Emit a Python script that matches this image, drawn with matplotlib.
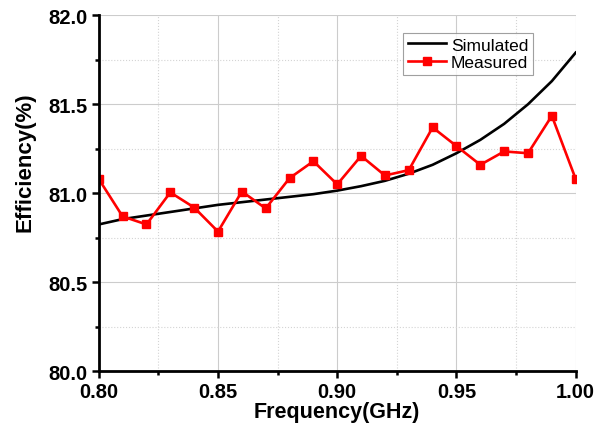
import matplotlib

matplotlib.use("Agg")
import matplotlib.pyplot as plt
from matplotlib.ticker import MultipleLocator

plt.rcParams["font.family"] = ["Liberation Sans", "DejaVu Sans"]

freq = [0.80, 0.81, 0.82, 0.83, 0.84, 0.85, 0.86, 0.87, 0.88, 0.89, 0.90,
        0.91, 0.92, 0.93, 0.94, 0.95, 0.96, 0.97, 0.98, 0.99, 1.00]
simulated = [80.825, 80.855, 80.875, 80.895, 80.915, 80.935, 80.95, 80.965,
             80.98, 80.995, 81.015, 81.04, 81.07, 81.11, 81.16, 81.225,
             81.30, 81.39, 81.50, 81.63, 81.79]
measured = [81.08, 80.87, 80.825, 81.005, 80.92, 80.785, 81.01, 80.915,
            81.085, 81.18, 81.05, 81.21, 81.10, 81.13, 81.37, 81.265,
            81.16, 81.235, 81.225, 81.435, 81.08]

fig = plt.figure(figsize=(6.06, 4.27), dpi=100)
ax = fig.add_axes([0.163, 0.128, 0.787, 0.834])

ax.plot(freq, simulated, color="black", lw=1.9, label="Simulated")
ax.plot(freq, measured, color="red", lw=1.9, marker="s", markersize=6,
        label="Measured")

ax.set_xlim(0.80, 1.00)
ax.set_ylim(80.0, 82.0)
ax.xaxis.set_major_locator(MultipleLocator(0.05))
ax.xaxis.set_minor_locator(MultipleLocator(0.025))
ax.yaxis.set_major_locator(MultipleLocator(0.5))
ax.yaxis.set_minor_locator(MultipleLocator(0.25))
ax.xaxis.set_major_formatter(lambda v, p: f"{v:.2f}")
ax.yaxis.set_major_formatter(lambda v, p: f"{v:.1f}")

ax.grid(which="major", color="#cccccc", lw=0.8)
ax.grid(which="minor", color="#d4d4d4", lw=0.8, ls=":")
ax.set_axisbelow(True)

for side in ("top", "right"):
    ax.spines[side].set_visible(False)
for side in ("left", "bottom"):
    ax.spines[side].set_linewidth(2)

ax.tick_params(which="both", direction="out", width=1.8, labelsize=14.5)
ax.tick_params(which="major", length=5, pad=3)
ax.tick_params(which="minor", length=3)
for lbl in ax.get_xticklabels() + ax.get_yticklabels():
    lbl.set_fontweight("bold")

ax.set_xlabel("Frequency(GHz)", fontsize=15.5, fontweight="bold", labelpad=0)
ax.set_ylabel("Efficiency(%)", fontsize=16, fontweight="bold")
ax.yaxis.set_label_coords(-0.132, 0.59)

leg = ax.legend(loc="upper right", bbox_to_anchor=(0.91, 0.95),
                borderaxespad=0, fontsize=12.5, fancybox=False,
                handlelength=2.2, handletextpad=0.3, borderpad=0.25,
                labelspacing=0.15)
leg.get_frame().set_edgecolor("#888888")
leg.get_frame().set_linewidth(0.8)

fig.savefig("out.png", dpi=100)
